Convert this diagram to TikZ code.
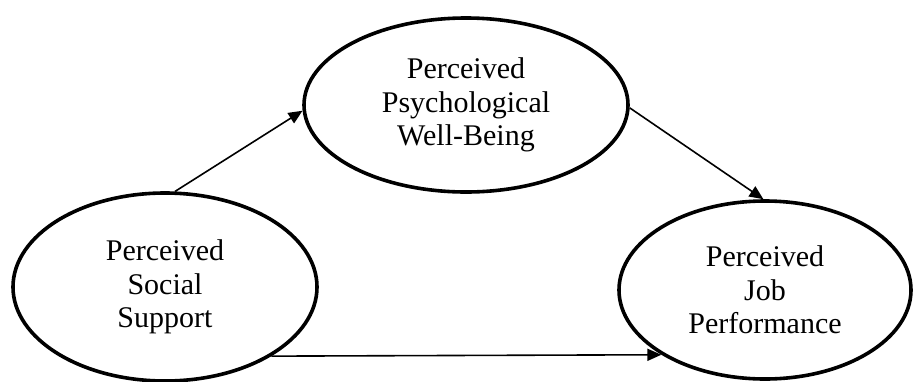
\documentclass[tikz,border=0pt]{standalone}
\usepackage{fontspec}
\setmainfont{Liberation Serif}
\usetikzlibrary{shapes.geometric,arrows.meta}
\begin{document}
\begin{tikzpicture}[x=1pt,y=-1pt,
  construct/.style={ellipse,draw=black,line width=3.6pt,inner sep=0pt,align=center,
    font=\fontsize{30}{33.5}\selectfont},
  path arrow/.style={line width=1.6pt,-{Triangle[length=14pt,width=12pt]}}]
\useasboundingbox (0,0) rectangle (913,381);
\node[construct,minimum width=304pt,minimum height=188pt] (ss) at (165,287) {Perceived\\Social\\Support};
\node[construct,minimum width=324pt,minimum height=174pt] (pwb) at (466,105) {Perceived\\Psychological\\Well-Being};
\node[construct,minimum width=292pt,minimum height=178pt] (jp) at (765,290) {Perceived\\Job\\Performance};
\draw[path arrow] (ss.84) -- (pwb.182);
\draw[path arrow] (pwb.359) -- (jp.91);
\draw[path arrow] (ss.-33) -- (jp.212);
\end{tikzpicture}
\end{document}
